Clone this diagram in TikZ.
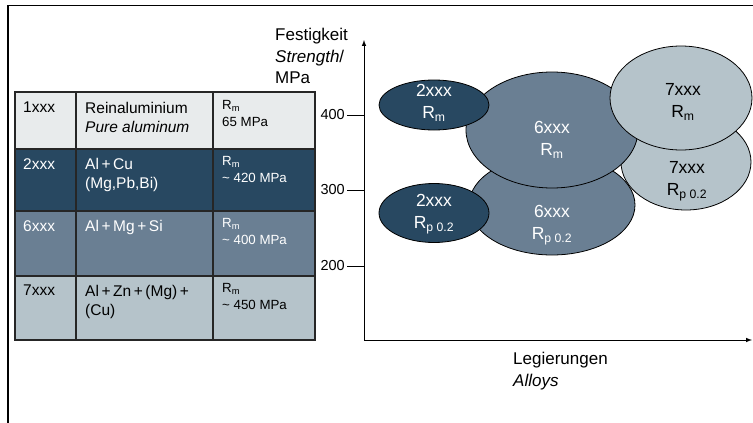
\documentclass[tikz,border=0pt]{standalone}
\usepackage{fontspec}
\setmainfont{Liberation Sans}
\usetikzlibrary{arrows,shapes.geometric}

\definecolor{alpure}{HTML}{E8EBEC}
\definecolor{aldark}{HTML}{284861}
\definecolor{almid}{HTML}{6A7F93}
\definecolor{alpale}{HTML}{B5C3CA}

\tikzset{
    cell/.style={anchor=north west, inner sep=0, align=left, font=\fontsize{15.5}{19}\selectfont},
    val/.style={anchor=north west, inner sep=0, align=left, font=\fontsize{13.3}{17}\selectfont},
    blob/.style={ellipse, draw, line width=0.8, inner sep=0},
    tag/.style={align=center, inner sep=0, font=\fontsize{17.5}{22}\selectfont},
    axis/.style={line width=1}
}

\begin{document}
\begin{tikzpicture}[x=1pt,y=-1pt]
\useasboundingbox (0,0) rectangle (753,423);

% frame
\draw [line width=1.3] (8,423) -- (8,5.3) -- (753,5.3);

% table
\fill [alpure] (15,92) rectangle (315,149);
\fill [aldark] (15,149) rectangle (315,211);
\fill [almid] (15,211) rectangle (315,276);
\fill [alpale] (15,276) rectangle (315,340);

\begin{scope}[line width=1.2, draw=black!85]
    \draw (15,92) rectangle (315,340);
    \draw (15,149) -- (315,149);
    \draw (15,211) -- (315,211);
    \draw (15,276) -- (315,276);
    \draw (76,92) -- (76,340);
    \draw (213,92) -- (213,340);
\end{scope}

\node [cell] (n1) at (23,102) {1xxx};
\node [cell] (a1) at (85,102) {Reinaluminium\\\textit{Pure aluminum}};
\node [val] (v1) at (222,100) {R\textsubscript{m}\\65 MPa};

\node [cell, white] (n2) at (23,158) {2xxx};
\node [cell, white] (a2) at (85,158) {Al\,+\,Cu\\(Mg,Pb,Bi)};
\node [val, white] (v2) at (222,156) {R\textsubscript{m}\\\textasciitilde\ 420 MPa};

\node [cell, white] (n6) at (23,220) {6xxx};
\node [cell, white] (a6) at (85,220) {Al\,+\,Mg\,+\,Si};
\node [val, white] (v6) at (222,218) {R\textsubscript{m}\\\textasciitilde\ 400 MPa};

\node [cell] (n7) at (23,285) {7xxx};
\node [cell] (a7) at (85,285) {Al\,+\,Zn\,+\,(Mg)\,+\\(Cu)};
\node [val] (v7) at (222,283) {R\textsubscript{m}\\\textasciitilde\ 450 MPa};

% axes
\coordinate (o) at (364,340);
\coordinate (ytop) at (364,40);
\coordinate (xend) at (752,340);
\draw [axis, -latex] (o) -- (ytop);
\draw [axis, -latex] (o) -- (xend);

\node [anchor=north west, inner sep=0, align=left, font=\fontsize{17}{21.5}\selectfont] (ylab) at (275,28) {Festigkeit\\\textit{Strength}/\\MPa};
\node [anchor=north west, inner sep=0, align=left, font=\fontsize{17}{22}\selectfont] (xlab) at (513,352) {Legierungen\\\textit{Alloys}};

\begin{scope}[every node/.style={anchor=east, inner sep=0, font=\fontsize{14.5}{17}\selectfont}]
    \node (l400) at (345,115) {400};
    \node (l300) at (345,190) {300};
    \node (l200) at (345,266) {200};
\end{scope}
\draw [axis] ([xshift=2pt]l400.east) -- (l400.east -| o);
\draw [axis] ([xshift=2pt]l300.east) -- (l300.east -| o);
\draw [axis] ([xshift=2pt]l200.east) -- (l200.east -| o);

% alloy ellipses
\node [blob, fill=alpale, minimum width=130, minimum height=96] (sevenRp) at (686,162) {};
\node [tag] (sevenRpt) at (687,181) {7xxx\\R\textsubscript{p 0.2}};

\node [blob, fill=almid, minimum width=166, minimum height=100] (sixRp) at (552,205) {};
\node [tag, white] (sixRpt) at (552,225) {6xxx\\R\textsubscript{p 0.2}};

\node [blob, fill=almid, minimum width=172, minimum height=116] (sixRm) at (552,130) {};
\node [tag, white] (sixRmt) at (552,140) {6xxx\\R\textsubscript{m}};

\node [blob, fill=alpale, minimum width=142, minimum height=104] (sevenRm) at (681,98) {};
\node [tag] (sevenRmt) at (683,102) {7xxx\\R\textsubscript{m}};

\node [blob, fill=aldark, minimum width=110, minimum height=50] (twoRm) at (434,105) {};
\node [tag, white] (twoRmt) at (434,103) {2xxx\\R\textsubscript{m}};

\node [blob, fill=aldark, minimum width=110, minimum height=59] (twoRp) at (434,213) {};
\node [tag, white] (twoRpt) at (434,214) {2xxx\\R\textsubscript{p 0.2}};

\end{tikzpicture}
\end{document}
